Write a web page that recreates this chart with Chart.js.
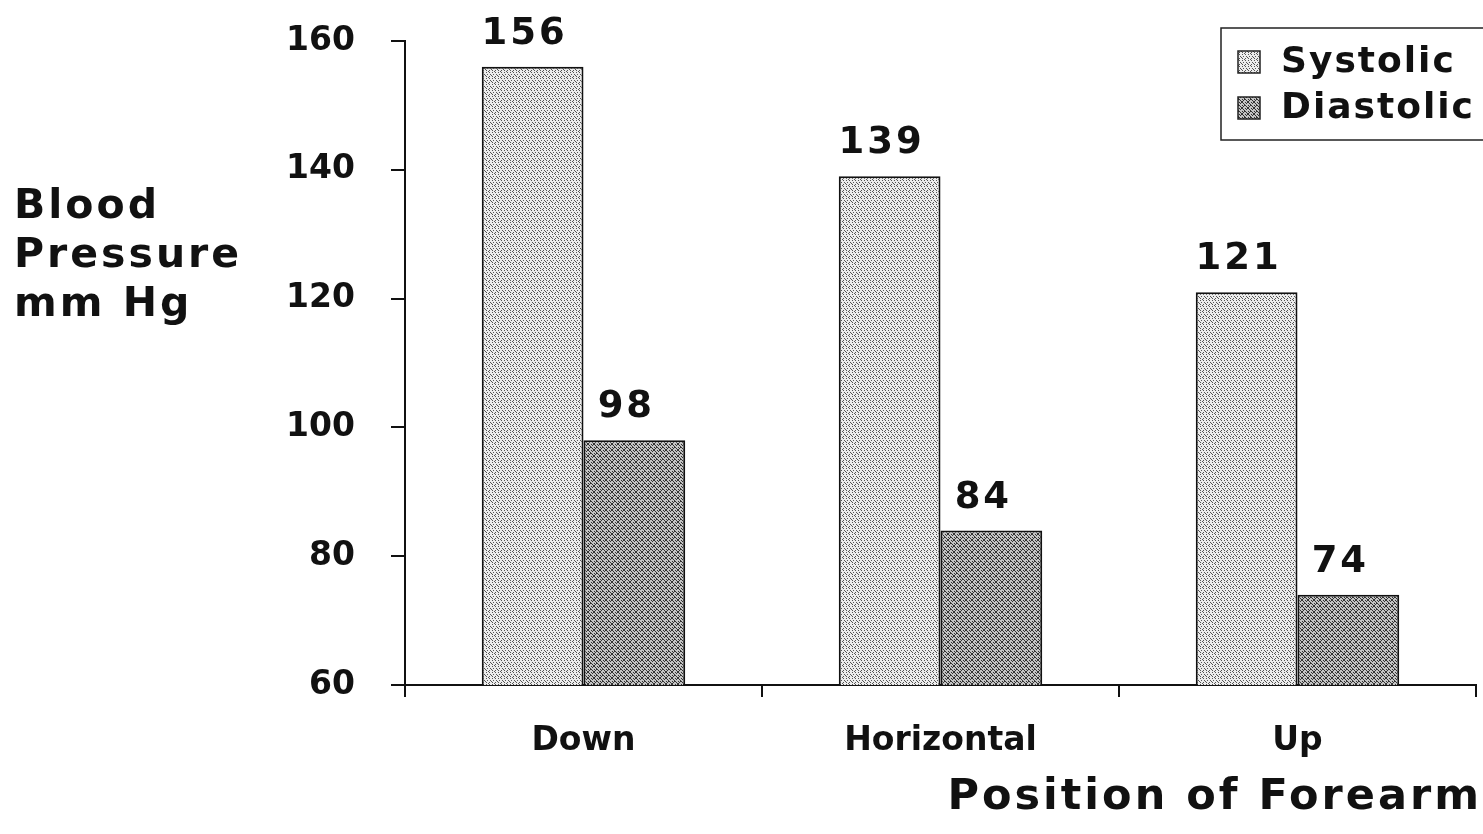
<!DOCTYPE html>
<html>
<head>
<meta charset="utf-8">
<script src="https://cdn.jsdelivr.net/npm/chart.js@4/dist/chart.umd.min.js"></script>
<style>
  html, body { margin: 0; padding: 0; background: #fff; }
  #wrap { width: 1483px; height: 834px; position: relative; }
</style>
</head>
<body>
<div id="wrap"><canvas id="bpChart" width="1483" height="834"></canvas></div>
<script>
const positions = ["Down", "Horizontal", "Up"];
const systolic = [156, 139, 121];
const diastolic = [98, 84, 74];
const yTicks = [60, 80, 100, 120, 140, 160];
const yTitle = ["Blood", "Pressure", "mm Hg"];
const xTitle = "Position of Forearm";

const FONT = "'DejaVu Sans', sans-serif";

// stippled fills like the old print
function makePattern(bg, ink, dots) {
  const c = document.createElement("canvas");
  c.width = 6; c.height = 6;
  const g = c.getContext("2d");
  g.fillStyle = bg;
  g.fillRect(0, 0, 6, 6);
  g.fillStyle = ink;
  dots.forEach(([x, y]) => g.fillRect(x, y, 1, 1));
  return g.createPattern(c, "repeat");
}
const lightFill = makePattern("#ececec", "#555", [[0, 0], [3, 0], [1, 2], [4, 2], [0, 4], [3, 4], [2, 5], [5, 3]]);
const darkFill = makePattern("#c4c4c4", "#333", [[0, 0], [1, 1], [2, 2], [3, 3], [4, 4], [5, 5], [5, 0], [4, 1], [2, 3], [1, 4], [0, 5], [3, 0], [0, 3]]);

const valueLabels = {
  id: "valueLabels",
  afterDatasetsDraw(chart) {
    const ctx = chart.ctx;
    ctx.save();
    ctx.fillStyle = "#111";
    ctx.font = "bold 37px " + FONT;
    ctx.letterSpacing = "3px";
    ctx.textAlign = "center";
    ctx.textBaseline = "bottom";
    chart.data.datasets.forEach((ds, i) => {
      chart.getDatasetMeta(i).data.forEach((bar, j) => {
        ctx.fillText(String(ds.data[j]), bar.x - 8, bar.y - 14);
      });
    });
    ctx.restore();
  }
};

const extraText = {
  id: "extraText",
  afterDraw(chart) {
    const ctx = chart.ctx;
    ctx.save();
    ctx.fillStyle = "#111";
    ctx.letterSpacing = "3px";
    ctx.textBaseline = "middle";
    ctx.textAlign = "left";
    ctx.font = "bold 41px " + FONT;
    yTitle.forEach((t, i) => ctx.fillText(t, 14, 207 + i * 49));
    ctx.textAlign = "right";
    ctx.font = "bold 43px " + FONT;
    ctx.fillText(xTitle, 1482, 798);

    // legend box
    ctx.letterSpacing = "2px";
    ctx.lineWidth = 1.5;
    ctx.strokeStyle = "#222";
    ctx.strokeRect(1221, 28, 270, 112);
    ctx.textAlign = "left";
    ctx.font = "bold 36px " + FONT;
    chart.data.datasets.forEach((ds, i) => {
      const y = 62 + i * 46;
      ctx.fillStyle = ds.backgroundColor;
      ctx.fillRect(1238, y - 11, 22, 22);
      ctx.strokeRect(1238, y - 11, 22, 22);
      ctx.fillStyle = "#111";
      ctx.fillText(ds.label, 1281, y + 1);
    });
    ctx.restore();
  }
};

new Chart(document.getElementById("bpChart"), {
  type: "bar",
  data: {
    labels: positions,
    datasets: [
      { label: "Systolic", data: systolic, backgroundColor: lightFill, borderColor: "#111", borderWidth: 2 },
      { label: "Diastolic", data: diastolic, backgroundColor: darkFill, borderColor: "#111", borderWidth: 2 }
    ]
  },
  options: {
    responsive: false,
    animation: false,
    layout: { padding: { left: 0, top: 41, right: 7, bottom: 0 } },
    datasets: { bar: { categoryPercentage: 0.57, barPercentage: 1.0 } },
    plugins: { legend: { display: false }, tooltip: { enabled: false } },
    scales: {
      x: {
        grid: { offset: true, drawOnChartArea: false, drawTicks: true, tickLength: 12, color: "#111", lineWidth: 2 },
        border: { display: true, color: "#111", width: 2 },
        ticks: { color: "#111", font: { family: FONT, size: 33, weight: "bold" }, padding: 25 },
        afterFit: s => { s.height = 149; s.paddingLeft = 0; s.paddingRight = 0; }
      },
      y: {
        min: 60, max: 160,
        afterBuildTicks: s => { s.ticks = yTicks.map(v => ({ value: v })); },
        grid: { drawOnChartArea: false, drawTicks: true, tickLength: 14, color: "#111", lineWidth: 2 },
        border: { display: true, color: "#111", width: 2 },
        ticks: { color: "#111", font: { family: FONT, size: 33, weight: "bold" }, padding: 36 },
        afterFit: s => { s.width = 405; s.paddingTop = 0; s.paddingBottom = 0; }
      }
    }
  },
  plugins: [valueLabels, extraText]
});
</script>
</body>
</html>
